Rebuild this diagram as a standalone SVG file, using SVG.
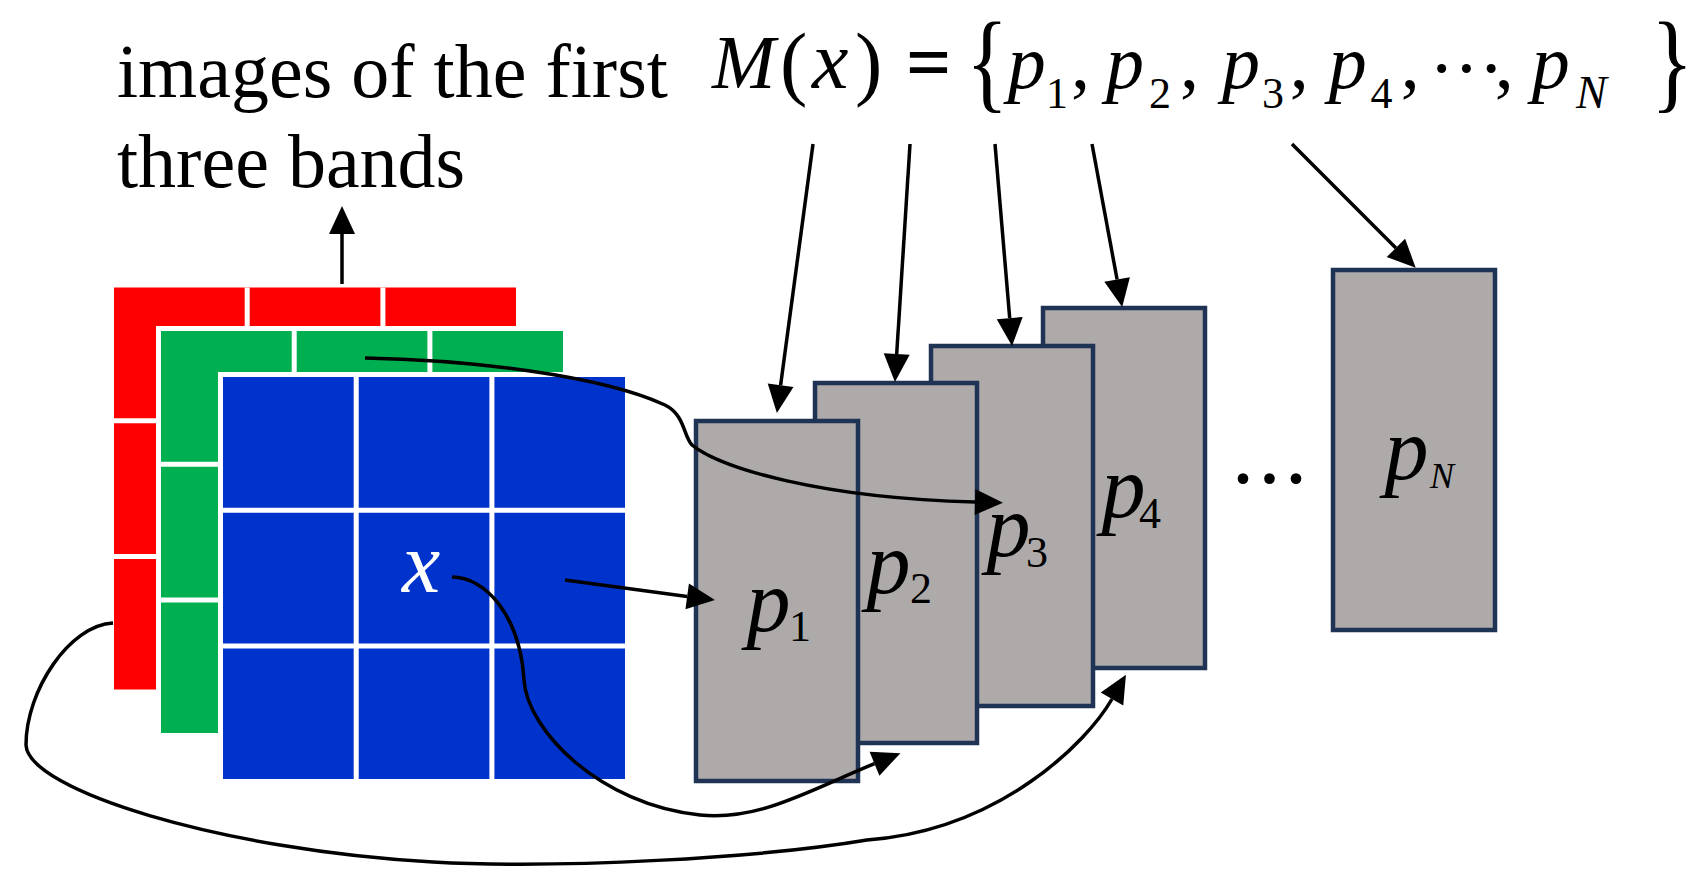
<svg xmlns="http://www.w3.org/2000/svg" width="1695" height="893" viewBox="0 0 1695 893">
<style>
.serif{font-family:"Liberation Serif","Times New Roman",serif;fill:#000}
.it{font-style:italic}
.gap{fill:#fff}
.grid{stroke:#fff;stroke-width:5}
.box{fill:#AEAAAA;stroke:#1F3354;stroke-width:4.5}
.conn{fill:none;stroke:#000;stroke-width:3.5}
</style>
<defs>
<marker id="ah" markerUnits="userSpaceOnUse" markerWidth="28" markerHeight="26" refX="0" refY="13" orient="auto" overflow="visible">
<path d="M0,0 L28,13 L0,26 z" fill="#000"/>
</marker>
</defs>
<rect width="1695" height="893" fill="#fff"/>

<g id="label-bands" class="serif" font-size="76">
<text x="117" y="97">images of the first</text>
<text x="117" y="187">three bands</text>
</g>

<g id="band-red">
<rect x="114" y="287.5" width="402" height="402" fill="#FF0000"/>
<path class="grid" d="M247.2,287.5V689.5M382.9,287.5V689.5M114,420.7H516M114,556.4H516"/>
</g>
<g id="band-green">
<rect class="gap" x="156" y="326" width="412" height="412"/>
<rect x="161" y="331" width="402" height="402" fill="#00B050"/>
<path class="grid" d="M294.2,331V733M429.9,331V733M161,464.2H563M161,599.9H563"/>
</g>
<g id="band-blue">
<rect class="gap" x="218" y="372" width="412" height="412"/>
<rect x="223" y="377" width="402" height="402" fill="#0033CC"/>
<path class="grid" d="M356.2,377V779M491.9,377V779M223,510.2H625M223,645.9H625"/>
<text class="serif it" x="402" y="592" font-size="86" style="fill:#fff">x</text>
</g>

<g id="pN">
<rect class="box" x="1333" y="270" width="162" height="360"/>
<text class="serif it" x="1384.6" y="479" font-size="88">p</text>
<text class="serif it" x="1430" y="488" font-size="36">N</text>
</g>
<g id="p4">
<rect class="box" x="1043" y="308" width="162" height="360"/>
<text class="serif it" x="1101.6" y="517" font-size="88">p</text>
<text class="serif" x="1139" y="528" font-size="44">4</text>
</g>
<g id="p3">
<rect class="box" x="931" y="346" width="162" height="360"/>
<text class="serif it" x="986.6" y="556" font-size="88">p</text>
<text class="serif" x="1026" y="567" font-size="44">3</text>
</g>
<g id="p2">
<rect class="box" x="815" y="383" width="162" height="360"/>
<text class="serif it" x="866.6" y="593" font-size="88">p</text>
<text class="serif" x="910" y="603" font-size="44">2</text>
</g>
<g id="p1">
<rect class="box" x="696" y="421" width="162" height="360"/>
<text class="serif it" x="746.6" y="631" font-size="88">p</text>
<text class="serif" x="789" y="641" font-size="44">1</text>
</g>

<g id="ellipsis">
<text class="serif" x="1228" y="509" font-size="90" letter-spacing="-3.5">···</text>
</g>

<g id="formula" class="serif" font-size="76">
<text class="it" x="712" y="88">M</text>
<text x="780" y="90" font-size="82">(</text>
<text class="it" x="812" y="88" font-size="82">x</text>
<text x="855" y="90" font-size="82">)</text>
<text x="907" y="88" stroke="#000" stroke-width="1.8">=</text>
<text transform="translate(966,97.5) scale(0.8,1)" font-size="110">{</text>
<text class="it" x="1007.7" y="88">p</text>
<text x="1046" y="108" font-size="44">1</text>
<text x="1071" y="88">,</text>
<text class="it" x="1106" y="88">p</text>
<text x="1149" y="108" font-size="44">2</text>
<text x="1180" y="88">,</text>
<text class="it" x="1222" y="88">p</text>
<text x="1262" y="108" font-size="44">3</text>
<text x="1289.7" y="88">,</text>
<text class="it" x="1328.7" y="88">p</text>
<text x="1370.6" y="108" font-size="44">4</text>
<text x="1400.7" y="88">,</text>
<text x="1429" y="94" letter-spacing="-0.5">···</text>
<text x="1494.7" y="88">,</text>
<text class="it" x="1531.7" y="88">p</text>
<text class="it" x="1576" y="108" font-size="46">N</text>
<text transform="translate(1651,97.5) scale(0.8,1)" font-size="110">}</text>
</g>

<g id="connectors" class="conn" marker-end="url(#ah)">
<path d="M342,284 L342,234"/>
<path d="M813,144 L780.6,385.2"/>
<path d="M910,144 L896.7,354"/>
<path d="M995,144 L1009.7,318.1"/>
<path d="M1092,144 L1117.1,279.5"/>
<path d="M1292,144 L1395.9,247.9"/>
<path d="M565,580 L687.2,596.4"/>
<path d="M365,358 C470,360 600,375 665,405 C685,415 683,435 692,445 C720,468 820,498 975,502"/>
<path d="M452,577 C485,577 520,615 524,680 C527,730 600,805 700,815 C760,821 810,790 874.5,763.7"/>
<path d="M113,623 C70,625 26,690 26,745 C28,790 220,850 433,862 C560,869 760,858 867,840 C1000,830 1087,742.5 1112,699"/>
</g>
</svg>
